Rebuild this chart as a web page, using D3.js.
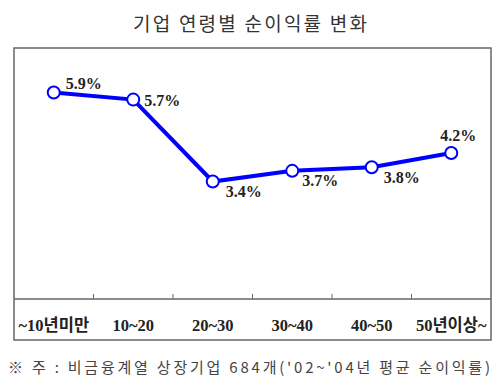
<!DOCTYPE html>
<html>
<head>
<meta charset="utf-8">
<script src="https://cdn.jsdelivr.net/npm/d3@7"></script>
<style>
body { margin: 0; background: #fff; }
</style>
</head>
<body>
<div id="chart"></div>
<script>
// data
var categories = ["~10년미만", "10~20", "20~30", "30~40", "40~50", "50년이상~"];
var profitRate = [5.9, 5.7, 3.4, 3.7, 3.8, 4.2];
var title = "기업 연령별 순이익률 변화";
var footnote = "※ 주 : 비금융계열 상장기업 684개('02~'04년 평균 순이익률)";

// label placement per point: [dx, dy, anchor]
var labelPlace = [[12, -4, "start"], [11, 6, "start"], [13, 15, "start"],
                  [10, 15, "start"], [12, 16, "start"], [7, -12, "middle"]];

var W = 500, H = 383;
var box = {left: 14, top: 48, right: 491, bottom: 340},
    axisY = 299;

var svg = d3.select("#chart")
    .append("svg")
    .attr("width", W)
    .attr("height", H);

svg.append("text")
    .attr("x", 250)
    .attr("y", 31)
    .attr("text-anchor", "middle")
    .attr("font-family", "Noto Sans CJK KR")
    .attr("font-size", 19)
    .attr("fill", "#333")
    .attr("textLength", 234)
    .text(title);

// frame
svg.append("rect")
    .attr("x", box.left)
    .attr("y", box.top)
    .attr("width", box.right - box.left)
    .attr("height", box.bottom - box.top)
    .attr("fill", "none")
    .attr("stroke", "#666")
    .attr("stroke-width", 1.5);

var x = d3.scaleBand()
    .domain(categories)
    .range([box.left, box.right]);

var y = d3.scaleLinear()
    .domain([0.1, 7.15])
    .range([axisY, box.top]);

// x axis line + inner ticks between categories
svg.append("line")
    .attr("x1", box.left).attr("x2", box.right)
    .attr("y1", axisY).attr("y2", axisY)
    .attr("stroke", "#666")
    .attr("stroke-width", 1.5);

svg.selectAll(".tick")
    .data(categories.slice(1))
    .enter()
    .append("line")
    .attr("x1", function(d) { return x(d); })
    .attr("x2", function(d) { return x(d); })
    .attr("y1", axisY - 5)
    .attr("y2", axisY)
    .attr("stroke", "#666");

svg.selectAll(".cat")
    .data(categories)
    .enter()
    .append("text")
    .attr("x", function(d) { return x(d) + x.bandwidth() / 2; })
    .attr("y", 331)
    .attr("text-anchor", "middle")
    .attr("font-family", "Liberation Serif, Noto Sans CJK KR")
    .attr("font-weight", "bold")
    .attr("font-size", 16.5)
    .attr("fill", "#222")
    .text(function(d) { return d; });

var pts = profitRate.map(function(v, i) {
    return {cat: categories[i], v: v, i: i};
});

var line = d3.line()
    .x(function(d) { return x(d.cat) + x.bandwidth() / 2; })
    .y(function(d) { return y(d.v); });

svg.append("path")
    .datum(pts)
    .attr("d", line)
    .attr("fill", "none")
    .attr("stroke", "#0000ff")
    .attr("stroke-width", 4);

svg.selectAll(".dot")
    .data(pts)
    .enter()
    .append("circle")
    .attr("cx", function(d) { return x(d.cat) + x.bandwidth() / 2; })
    .attr("cy", function(d) { return y(d.v); })
    .attr("r", 6)
    .attr("fill", "#fff")
    .attr("stroke", "#0000ff")
    .attr("stroke-width", 2);

svg.selectAll(".val")
    .data(pts)
    .enter()
    .append("text")
    .attr("x", function(d) { return x(d.cat) + x.bandwidth() / 2 + labelPlace[d.i][0]; })
    .attr("y", function(d) { return y(d.v) + labelPlace[d.i][1]; })
    .attr("text-anchor", function(d) { return labelPlace[d.i][2]; })
    .attr("font-family", "Liberation Serif")
    .attr("font-weight", "bold")
    .attr("font-size", 16)
    .attr("fill", "#222")
    .text(function(d) { return d.v.toFixed(1) + "%"; });

svg.append("text")
    .attr("x", 8)
    .attr("y", 373)
    .attr("font-family", "Noto Sans CJK KR")
    .attr("font-size", 15)
    .attr("fill", "#444")
    .attr("textLength", 482)
    .text(footnote);
</script>
</body>
</html>
